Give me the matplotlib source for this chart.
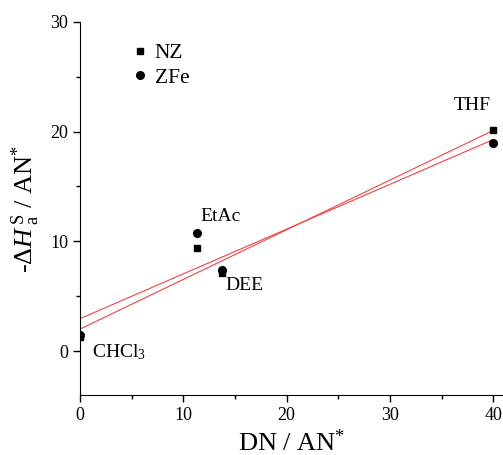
import numpy as np
import matplotlib.pyplot as plt
from matplotlib.ticker import MultipleLocator

plt.rcParams['font.family'] = ['Liberation Serif', 'DejaVu Serif']
plt.rcParams['mathtext.fontset'] = 'custom'
plt.rcParams['mathtext.rm'] = 'Liberation Serif'
plt.rcParams['mathtext.it'] = 'Liberation Serif:italic'

# solvents: CHCl3, EtAc, DEE, THF
dn = [0.0, 11.3, 13.7, 40.0]
nz = [1.3, 9.4, 7.1, 20.1]
zfe = [1.5, 10.8, 7.4, 19.0]
labels = ['CHCl$_3$', 'EtAc', 'DEE', 'THF']
lab_x = [1.2, 11.7, 14.1, 36.2]
lab_y = [-0.1, 12.3, 6.0, 22.4]

# linear fits (intercept, slope)
fit_nz = [2.0, 0.4525]
fit_zfe = [2.95, 0.408]
fit_x = [0.0, 40.0]

fig = plt.figure(figsize=(5.03, 4.55), dpi=100)
ax = fig.add_axes([0.159, 0.132, 0.841, 0.82])

for f in (fit_nz, fit_zfe):
    ax.plot(fit_x, [f[0] + f[1] * x for x in fit_x], color='#ee4444', lw=0.8, zorder=2)

ax.plot(dn, nz, 's', color='black', ms=5, label='NZ', zorder=3)
ax.plot(dn, zfe, 'o', color='black', ms=5.5, label='ZFe', zorder=3)

for t, x, y in zip(labels, lab_x, lab_y):
    ax.text(x, y, t, fontsize=14, ha='left', va='center')

ax.set_xlim(0, 40.95)
ax.set_ylim(-4, 30)
ax.xaxis.set_major_locator(MultipleLocator(10))
ax.xaxis.set_minor_locator(MultipleLocator(5))
ax.yaxis.set_major_locator(MultipleLocator(10))
ax.yaxis.set_minor_locator(MultipleLocator(5))
ax.tick_params(which='major', direction='out', length=5, width=1, labelsize=13)
ax.tick_params(which='minor', direction='out', length=3, width=1)
ax.spines['top'].set_visible(False)
ax.spines['right'].set_visible(False)

ax.set_xlabel('DN / AN$^{*}$', fontsize=19, labelpad=4)
ax.set_ylabel(r'-$\Delta$$\mathit{H}\,_{\rm a}^{\rm S}$ / AN$^{*}$', fontsize=19, labelpad=6)

ax.legend(loc='upper left', bbox_to_anchor=(0.065, 0.995), frameon=False, fontsize=15.5,
          handletextpad=0.1, handlelength=1.2, labelspacing=0.2)

fig.savefig('out.png', dpi=100)
